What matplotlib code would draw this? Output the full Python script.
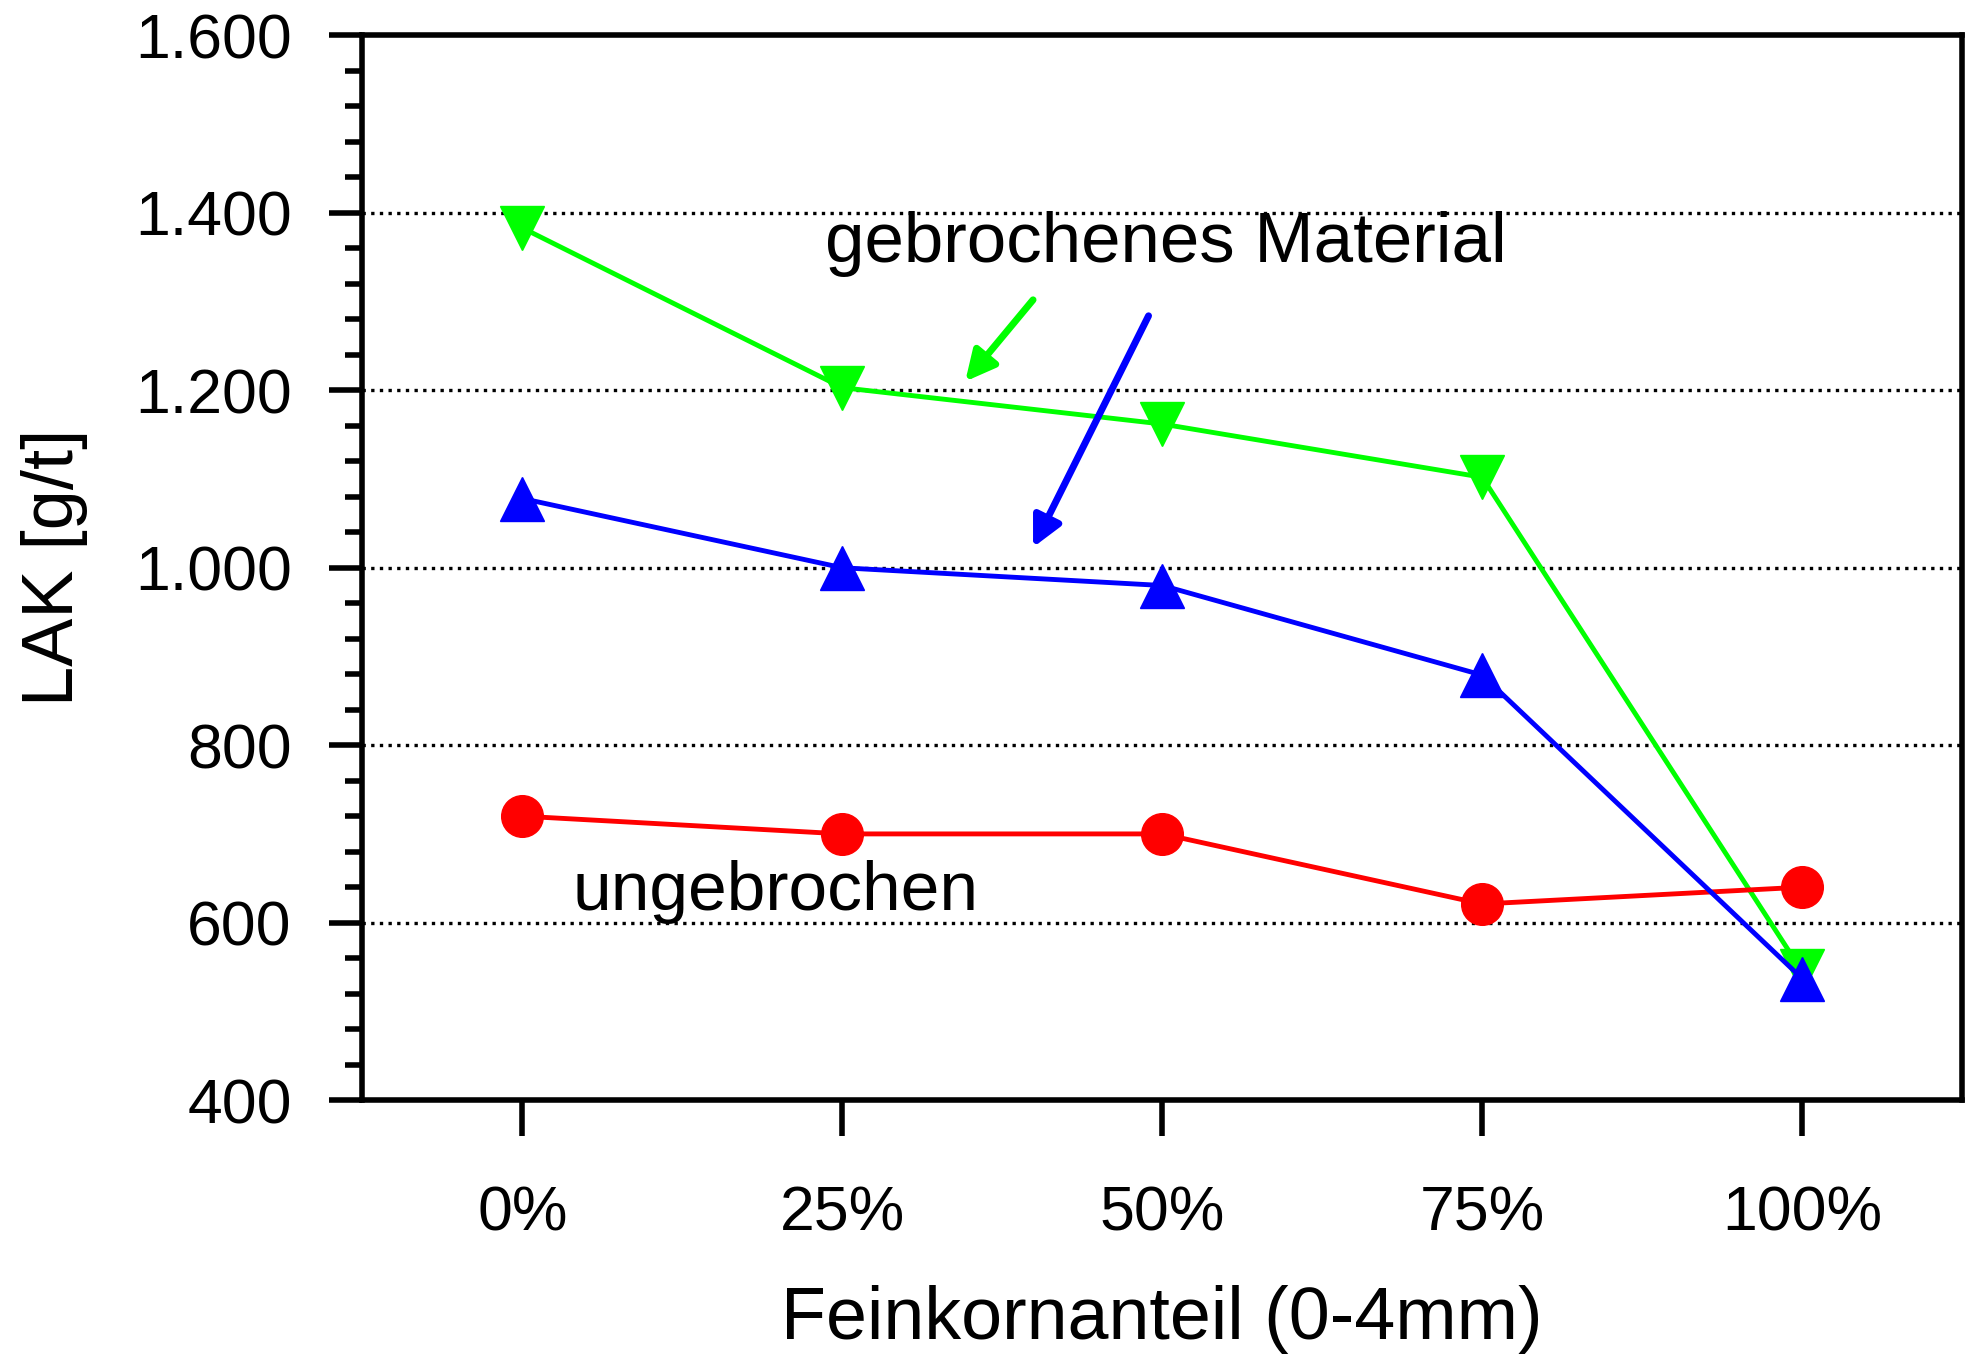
import numpy as np
import matplotlib.pyplot as plt
from matplotlib.ticker import MultipleLocator, FuncFormatter

plt.rcParams['font.family'] = ['Liberation Sans', 'DejaVu Sans']

categories = ['0%', '25%', '50%', '75%', '100%']
gebrochen_gruen = [1383, 1203, 1162, 1102, 545]
gebrochen_blau = [1078, 1000, 980, 879, 537]
ungebrochen = [720, 700, 700, 621, 640]

x = np.arange(len(categories))

fig = plt.figure(figsize=(19.7, 13.64), dpi=100)
ax = fig.add_axes([0.184, 0.1935, 0.812, 0.7805])

ax.plot(x, gebrochen_gruen, color='#00ff00', lw=3.5, marker='v', ms=32, zorder=3)
ax.plot(x, gebrochen_blau, color='#0000ff', lw=3.5, marker='^', ms=32, zorder=4)
ax.plot(x, ungebrochen, color='#ff0000', lw=3.5, marker='o', ms=30, zorder=3)

ax.set_xlim(-0.5, 4.5)
ax.set_ylim(400, 1600)
ax.set_xticks(x)
ax.set_xticklabels(categories)
ax.yaxis.set_major_locator(MultipleLocator(200))
ax.yaxis.set_minor_locator(MultipleLocator(40))
ax.yaxis.set_major_formatter(FuncFormatter(lambda v, p: f'{int(v):,}'.replace(',', '.')))

for y in [600, 800, 1000, 1200, 1400]:
    ax.axhline(y, color='black', lw=2.4, ls=(0, (1.0, 1.6)), zorder=1)

for s in ax.spines.values():
    s.set_linewidth(4)
ax.tick_params(axis='y', which='major', direction='out', length=24, width=4,
               labelsize=45, pad=27)
ax.tick_params(axis='y', which='minor', direction='out', length=12, width=4)
ax.tick_params(axis='x', which='major', direction='out', length=26, width=4,
               labelsize=45, pad=35)

ax.set_xlabel('Feinkornanteil (0-4mm)', fontsize=53, labelpad=30)
ax.set_ylabel('LAK [g/t]', fontsize=52, labelpad=34)

ax.text(2.01, 1365, 'gebrochenes Material', fontsize=51, ha='center', va='center')
ax.text(0.79, 635, 'ungebrochen', fontsize=50, ha='center', va='center')

ax.annotate('', xy=(1.384, 1210), xytext=(1.596, 1302),
            arrowprops=dict(arrowstyle='-|>', color='#00ff00', lw=5,
                            mutation_scale=45, shrinkA=0, shrinkB=0))
ax.annotate('', xy=(1.596, 1023), xytext=(1.957, 1284),
            arrowprops=dict(arrowstyle='-|>', color='#0000ff', lw=5,
                            mutation_scale=45, shrinkA=0, shrinkB=0))

fig.savefig('out.png', dpi=100)
